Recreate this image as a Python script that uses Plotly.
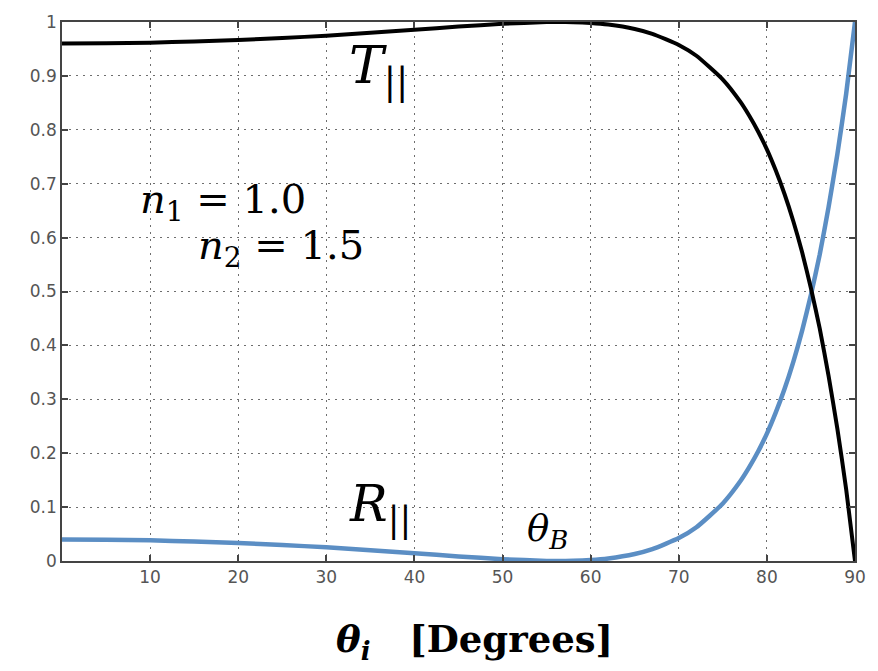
import plotly.graph_objects as go

# Angle of incidence (degrees) and p-polarised reflectance / transmittance, n1 = 1.0 -> n2 = 1.5
theta_deg = [0, 5, 10, 15, 20, 25, 30, 35, 40, 45, 50, 55, 56.3, 58, 60, 62, 65, 67,
             70, 72, 75, 77, 78, 79, 80, 81, 82, 83, 84, 85, 86, 87, 88, 89, 90]
r_par = [0.040, 0.0396, 0.0383, 0.0362, 0.0335, 0.0298, 0.0253, 0.0200, 0.0143, 0.0085,
         0.0033, 0.0002, 0.0, 0.0003, 0.0018, 0.0048, 0.0130, 0.0220, 0.0425, 0.0626,
         0.1068, 0.1483, 0.1740, 0.2031, 0.2363, 0.2752, 0.3191, 0.3696, 0.4273, 0.4940,
         0.5688, 0.6566, 0.7549, 0.8672, 1.0]
t_par = [0.960, 0.9604, 0.9617, 0.9638, 0.9665, 0.9702, 0.9747, 0.9800, 0.9857, 0.9915,
         0.9967, 0.9998, 1.0, 0.9997, 0.9982, 0.9952, 0.9870, 0.9780, 0.9575, 0.9374,
         0.8932, 0.8517, 0.8260, 0.7969, 0.7637, 0.7248, 0.6809, 0.6304, 0.5727, 0.5060,
         0.4312, 0.3434, 0.2451, 0.1328, 0.0]

x_ticks = [10, 20, 30, 40, 50, 60, 70, 80, 90]
y_ticks = [0, 0.1, 0.2, 0.3, 0.4, 0.5, 0.6, 0.7, 0.8, 0.9, 1]
y_tick_text = ["0", "0.1", "0.2", "0.3", "0.4", "0.5", "0.6", "0.7", "0.8", "0.9", "1"]

SERIF = "DejaVu Serif, serif"

fig = go.Figure()
fig.add_trace(go.Scatter(x=theta_deg, y=r_par, mode="lines",
                         line=dict(color="#5b8ec4", width=4.5, shape="spline", smoothing=0.5),
                         showlegend=False))
fig.add_trace(go.Scatter(x=theta_deg, y=t_par, mode="lines",
                         line=dict(color="#000000", width=4, shape="spline", smoothing=0.5),
                         showlegend=False))

axis_common = dict(
    showline=True, linecolor="#444444", linewidth=1.5, mirror="ticks",
    ticks="inside", ticklen=6, tickcolor="#444444", tickwidth=1.5,
    showgrid=True, gridcolor="#6e6e6e", gridwidth=1, griddash="2px,5px",
    zeroline=False,
    tickfont=dict(family="DejaVu Sans, sans-serif", size=17, color="#555555"),
)

fig.update_xaxes(range=[0, 90], tickvals=x_ticks, **axis_common)
fig.update_yaxes(range=[0, 1], tickvals=y_ticks, ticktext=y_tick_text, **axis_common)

annotations = [
    dict(x=32.4, y=0.912, text="<i>T</i><sub>||</sub>", xanchor="left", yanchor="middle",
         font=dict(family=SERIF, size=52, color="black")),
    dict(x=8.6, y=0.666, text="<i>n</i><sub>1</sub> = 1.0", xanchor="left", yanchor="middle",
         font=dict(family=SERIF, size=40, color="black")),
    dict(x=15.2, y=0.58, text="<i>n</i><sub>2</sub> = 1.5", xanchor="left", yanchor="middle",
         font=dict(family=SERIF, size=40, color="black")),
    dict(x=32.3, y=0.10, text="<i>R</i><sub>||</sub>", xanchor="left", yanchor="middle",
         font=dict(family=SERIF, size=50, color="black")),
    dict(x=52.5, y=0.055, text="<i>θ</i><sub><i>B</i></sub>", xanchor="left", yanchor="middle",
         font=dict(family=SERIF, size=37, color="black")),
]
for a in annotations:
    a.update(xref="x", yref="y", showarrow=False)

annotations.append(dict(
    x=0.52, y=-0.15, xref="paper", yref="paper", showarrow=False,
    xanchor="center", yanchor="middle",
    text="<b><i>θ</i><sub><i>i</i></sub>   [Degrees]</b>",
    font=dict(family=SERIF, size=37, color="black"),
))

fig.update_layout(
    width=878, height=671,
    margin=dict(l=62, r=23, t=22, b=110),
    plot_bgcolor="white", paper_bgcolor="white",
    annotations=annotations,
)

fig.write_html("out.html")
